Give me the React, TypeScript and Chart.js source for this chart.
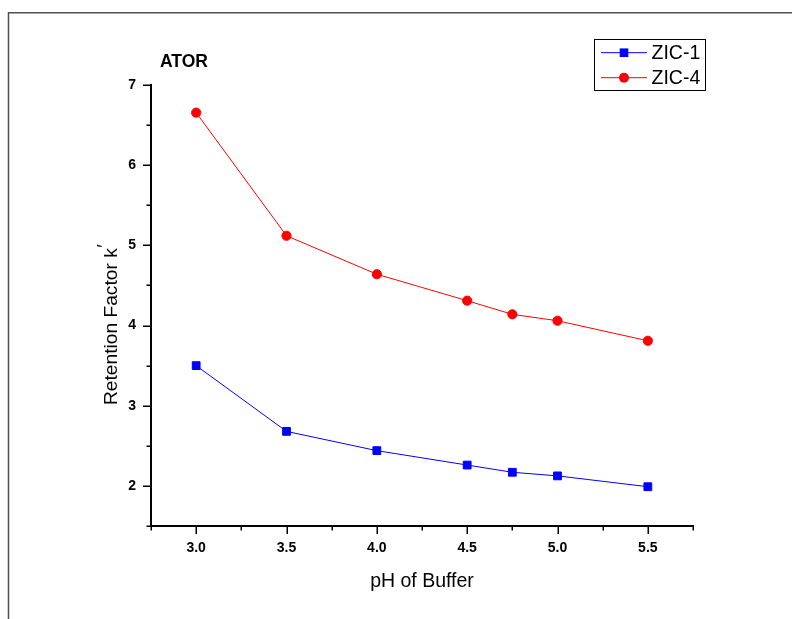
import React, { useEffect, useRef } from "react";
import { Chart, registerables } from "chart.js";

Chart.register(...registerables);

// ---- data ----
const phValues = [3.0, 3.5, 4.0, 4.5, 4.75, 5.0, 5.5];
const zic1Values = [3.5, 2.68, 2.44, 2.26, 2.17, 2.125, 1.99];
const zic4Values = [6.655, 5.12, 4.64, 4.31, 4.14, 4.06, 3.81];
const seriesNames = ["ZIC-1", "ZIC-4"];
const seriesColors = ["#0000ff", "#ff0000"];
const chartLabel = "ATOR";
const xTitle = "pH of Buffer";
const yTitle = "Retention Factor k";
const yTitleSup = "\u2032";
const xRange = [2.75, 5.75];
const yRange = [1.5, 7];

const FONT = "'Liberation Sans', Arial, Helvetica, sans-serif";

const isMajor = (v: number, step: number) =>
  Math.abs(v / step - Math.round(v / step)) < 1e-6;

const decor = {
  id: "decor",
  afterDraw(chart: any) {
    const ctx: CanvasRenderingContext2D = chart.ctx;
    const xs = chart.scales.x;
    const ys = chart.scales.y;
    const area = chart.chartArea;
    ctx.save();

    // outer frame (top & left)
    ctx.strokeStyle = "#505050";
    ctx.lineWidth = 1.5;
    ctx.beginPath();
    ctx.moveTo(8.5, 619);
    ctx.lineTo(8.5, 12.75);
    ctx.lineTo(792, 12.75);
    ctx.stroke();

    // tick marks
    ctx.strokeStyle = "#000";
    ctx.lineWidth = 1.5;
    ctx.beginPath();
    xs.ticks.forEach((t: any) => {
      const px = Math.round(xs.getPixelForValue(t.value)) + 0.25;
      const len = isMajor(t.value, 0.5) ? 8 : 4.5;
      ctx.moveTo(px, area.bottom);
      ctx.lineTo(px, area.bottom + len);
    });
    ys.ticks.forEach((t: any) => {
      const py = Math.round(ys.getPixelForValue(t.value)) + 0.25;
      const len = isMajor(t.value, 1) ? 8 : 4.5;
      ctx.moveTo(area.left, py);
      ctx.lineTo(area.left - len, py);
    });
    ctx.stroke();

    // label text
    ctx.fillStyle = "#000";
    ctx.font = `bold 17.5px ${FONT}`;
    ctx.textAlign = "left";
    ctx.textBaseline = "alphabetic";
    ctx.fillText(chartLabel, 160, 66.5);

    // x title
    ctx.font = `19.5px ${FONT}`;
    ctx.textAlign = "center";
    ctx.fillText(xTitle, (area.left + area.right) / 2, 587);

    // y title
    ctx.save();
    ctx.translate(117, 405);
    ctx.rotate(-Math.PI / 2);
    ctx.textAlign = "left";
    ctx.font = `19.2px ${FONT}`;
    ctx.fillText(yTitle, 0, 0);
    const w = ctx.measureText(yTitle).width;
    ctx.fillText(yTitleSup, w + 0.5, -7);
    ctx.restore();

    // legend
    const bx = 594.5, by = 39.5, bw = 111, bh = 51;
    ctx.lineWidth = 1;
    ctx.strokeStyle = "#000";
    ctx.strokeRect(bx, by, bw, bh);
    const rowsY = [52.7, 77.7];
    seriesNames.forEach((name, i) => {
      const y = rowsY[i];
      ctx.strokeStyle = seriesColors[i];
      ctx.lineWidth = 1;
      ctx.beginPath();
      ctx.moveTo(601, y);
      ctx.lineTo(647, y);
      ctx.stroke();
      ctx.fillStyle = seriesColors[i];
      if (i === 0) {
        ctx.fillRect(624 - 4.3, y - 4.3, 8.6, 8.6);
      } else {
        ctx.beginPath();
        ctx.arc(624, y, 5, 0, Math.PI * 2);
        ctx.fill();
      }
      ctx.fillStyle = "#000";
      ctx.font = `19.5px ${FONT}`;
      ctx.textAlign = "left";
      ctx.textBaseline = "alphabetic";
      ctx.fillText(name, 651.5, y + 6.5);
    });

    ctx.restore();
  },
};

export default function App() {
  const ref = useRef<HTMLCanvasElement>(null);

  useEffect(() => {
    const canvas = ref.current;
    if (!canvas) return;
    const seriesValues = [zic1Values, zic4Values];
    const chart = new Chart(canvas, {
      type: "line",
      data: {
        datasets: seriesNames.map((name, i) => ({
          label: name,
          data: phValues.map((x, j) => ({ x, y: seriesValues[i][j] })),
          borderColor: seriesColors[i],
          backgroundColor: seriesColors[i],
          borderWidth: 1,
          pointStyle: i === 0 ? "rect" : "circle",
          pointRadius: i === 0 ? 5.5 : 4.6,
          pointBorderWidth: 1,
          pointBackgroundColor: seriesColors[i],
          pointBorderColor: seriesColors[i],
          tension: 0,
          fill: false,
        })),
      },
      options: {
        responsive: false,
        animation: false,
        devicePixelRatio: 1,
        layout: { padding: { left: 0, top: 85, right: 99, bottom: 0 } },
        plugins: {
          legend: { display: false },
          tooltip: { enabled: false },
          title: { display: false },
        },
        scales: {
          x: {
            type: "linear",
            min: xRange[0],
            max: xRange[1],
            grid: { display: false },
            border: { display: true, color: "#000", width: 2 },
            ticks: {
              stepSize: 0.25,
              autoSkip: false,
              maxRotation: 0,
              color: "#000",
              padding: 6,
              font: { family: FONT, size: 14, weight: "bold" },
              callback: (v: any) => (isMajor(Number(v), 0.5) ? Number(v).toFixed(1) : ""),
            },
            afterFit: (s: any) => {
              s.height = 93;
            },
          },
          y: {
            type: "linear",
            min: yRange[0],
            max: yRange[1],
            grid: { display: false },
            border: { display: true, color: "#000", width: 2 },
            ticks: {
              stepSize: 0.5,
              autoSkip: false,
              color: "#000",
              padding: 7,
              font: { family: FONT, size: 14, weight: "bold" },
              callback: (v: any) => (isMajor(Number(v), 1) ? String(Math.round(Number(v))) : ""),
            },
            afterFit: (s: any) => {
              s.width = 151;
            },
          },
        },
      },
      plugins: [decor],
    });
    return () => chart.destroy();
  }, []);

  return (
    <canvas
      ref={ref}
      width={792}
      height={619}
      style={{ position: "fixed", left: 0, top: 0, display: "block", background: "#fff" }}
    />
  );
}
